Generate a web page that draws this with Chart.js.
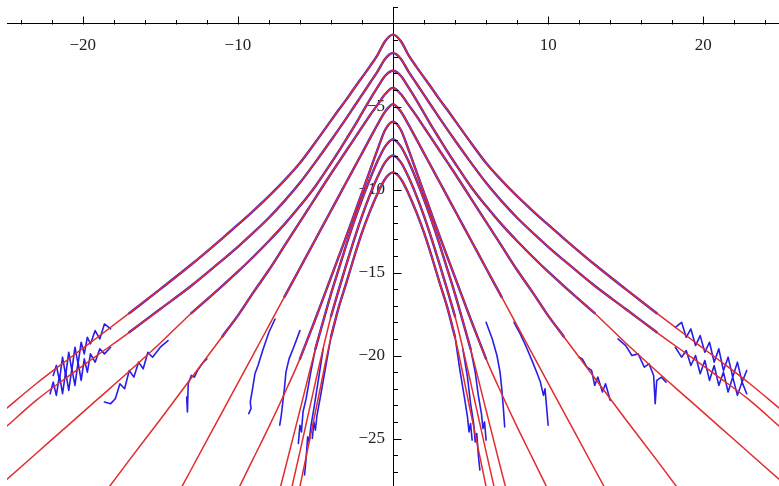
<!DOCTYPE html>
<html><head><meta charset="utf-8">
<script src="https://cdn.jsdelivr.net/npm/chart.js@4.4.1/dist/chart.umd.min.js"></script>
<style>html,body{margin:0;padding:0;background:#fff}#wrap{position:relative;width:779px;height:486px}</style>
</head><body><div id="wrap"><canvas id="c"></canvas></div>
<script>
// x grid for the fitted (red) curves
const X = [-25,-23,-21,-19,-17,-15,-13,-11,-10,-9,-8,-7,-6,-5,-4,-3.5,-3,-2.5,-2,-1.5,-1,-0.5,0,0.5,1,1.5,2,2.5,3,3.5,4,5,6,7,8,9,10,11,13,15,17,19,21,23,25];
// fitted curves, values
const fit1 = [-23.25,-21.7,-20.27,-18.87,-17.45,-16.0,-14.52,-12.94,-12.12,-11.28,-10.4,-9.45,-8.4,-7.15,-5.85,-5.2,-4.57,-3.9,-3.25,-2.6,-1.9,-1.05,-0.67,-1.05,-1.9,-2.6,-3.25,-3.9,-4.57,-5.2,-5.85,-7.15,-8.4,-9.45,-10.4,-11.28,-12.12,-12.94,-14.52,-16.0,-17.45,-18.87,-20.27,-21.7,-23.25];
const fit2 = [-24.35,-22.7,-21.3,-19.95,-18.6,-17.2,-15.8,-14.25,-13.45,-12.6,-11.7,-10.7,-9.6,-8.35,-7.05,-6.38,-5.7,-5.0,-4.3,-3.6,-2.9,-2.12,-1.78,-2.12,-2.9,-3.6,-4.3,-5.0,-5.7,-6.38,-7.05,-8.35,-9.6,-10.7,-11.7,-12.6,-13.45,-14.25,-15.8,-17.2,-18.6,-19.95,-21.3,-22.7,-24.35];
const fit3 = [-27.55,-25.9,-24.25,-22.6,-20.95,-19.25,-17.45,-15.8,-14.95,-14.05,-13.1,-12.1,-11.0,-9.8,-8.42,-7.7,-6.95,-6.2,-5.4,-4.6,-3.85,-3.15,-2.85,-3.15,-3.85,-4.6,-5.4,-6.2,-6.95,-7.7,-8.42,-9.8,-11.0,-12.1,-13.1,-14.05,-14.95,-15.8,-17.45,-19.25,-20.95,-22.6,-24.25,-25.9,-27.55];
const fit4 = [-36.3,-33.8,-31.3,-28.8,-26.3,-23.85,-21.35,-18.85,-17.6,-16.2,-14.85,-13.4,-11.95,-10.5,-9.05,-8.35,-7.65,-6.95,-6.25,-5.55,-4.9,-4.25,-3.88,-4.25,-4.9,-5.55,-6.25,-6.95,-7.65,-8.35,-9.05,-10.5,-11.95,-13.4,-14.85,-16.2,-17.6,-18.85,-21.35,-23.85,-26.3,-28.8,-31.3,-33.8,-36.3];
const fit5 = [-47.7,-44.2,-40.7,-37.3,-33.8,-30.3,-26.85,-23.39,-21.66,-19.93,-18.2,-16.47,-14.74,-13.01,-11.28,-10.41,-9.55,-8.68,-7.82,-6.95,-6.09,-5.3,-4.86,-5.3,-6.09,-6.95,-7.82,-8.68,-9.55,-10.41,-11.28,-13.01,-14.74,-16.47,-18.2,-19.93,-21.66,-23.39,-26.85,-30.3,-33.8,-37.3,-40.7,-44.2,-47.7];
const fit6 = [-58,-54,-50,-46,-42,-38,-34,-30,-28.1,-26.2,-24.3,-22.3,-20.2,-17.8,-15.3,-14.05,-12.8,-11.5,-10.2,-8.9,-7.6,-6.4,-5.92,-6.4,-7.6,-8.9,-10.2,-11.5,-12.8,-14.05,-15.3,-17.8,-20.2,-22.3,-24.3,-26.2,-28.1,-30,-34,-38,-42,-46,-50,-54,-58];
const fit7 = [-90,-85,-80,-70,-60,-52,-45,-41,-37.8,-34.2,-30.6,-27.0,-23.3,-19.6,-16.3,-14.8,-13.3,-11.9,-10.6,-9.4,-8.3,-7.4,-6.97,-7.4,-8.3,-9.4,-10.6,-11.9,-13.3,-14.8,-16.3,-19.6,-23.3,-27.0,-30.6,-34.2,-37.8,-41,-45,-52,-60,-70,-80,-85,-90];
const fit8 = [-95,-90,-85,-75,-65,-57,-50,-46,-42,-38,-34,-29.9,-25.8,-21.6,-17.65,-16.05,-14.5,-13.0,-11.6,-10.35,-9.25,-8.35,-7.95,-8.35,-9.25,-10.35,-11.6,-13.0,-14.5,-16.05,-17.65,-21.6,-25.8,-29.9,-34,-38,-42,-46,-50,-57,-65,-75,-85,-90,-95];
const fit9 = [-100,-95,-90,-80,-70,-62,-55,-50,-46,-41.5,-37,-32.4,-27.9,-23.4,-18.9,-17.1,-15.6,-14.05,-12.6,-11.35,-10.25,-9.35,-8.97,-9.35,-10.25,-11.35,-12.6,-14.05,-15.6,-17.1,-18.9,-23.4,-27.9,-32.4,-37,-41.5,-46,-50,-55,-62,-70,-80,-90,-95,-100];
const FITS = [fit1, fit2, fit3, fit4, fit5, fit6, fit7, fit8, fit9];
// |x| up to which the measured (blue) trace follows each fit
const blueReach = [18, 18, 14.5, 12, 7.5, 6, 5, 4.5, 4];
// noisy measured tails, [x, y]
const tailL = [
  [[-18.2,-18.4],[-18.6,-18.1],[-18.9,-19.0],[-19.2,-18.5],[-19.5,-19.3],[-19.7,-18.9],[-19.9,-19.9],[-20.1,-19.2],[-20.3,-20.5],[-20.5,-19.5],[-20.7,-20.9],[-20.9,-19.8],[-21.1,-21.2],[-21.3,-20.1],[-21.5,-21.5],[-21.7,-20.6],[-21.9,-21.2]],
  [[-18.2,-19.5],[-18.6,-19.9],[-18.9,-19.6],[-19.2,-20.4],[-19.5,-19.9],[-19.7,-21.0],[-19.9,-20.2],[-20.1,-21.5],[-20.3,-20.4],[-20.5,-21.8],[-20.7,-20.8],[-20.9,-22.1],[-21.1,-21.0],[-21.3,-22.3],[-21.5,-21.2],[-21.7,-22.4],[-21.9,-21.6],[-22.1,-22.3]],
  [[-14.5,-19.1],[-15.0,-19.5],[-15.5,-20.1],[-15.8,-19.8],[-16.1,-20.8],[-16.4,-20.4],[-16.7,-21.3],[-17.0,-20.9],[-17.3,-22.0],[-17.6,-21.7],[-17.9,-22.6],[-18.2,-22.9],[-18.6,-22.8]],
  [[-12.0,-20.2],[-12.3,-20.5],[-12.6,-20.9],[-12.8,-21.3],[-13.0,-21.2],[-13.2,-21.7],[-13.25,-23.4],[-13.3,-22.5]],
  [[-7.6,-17.8],[-8.0,-18.6],[-8.4,-19.7],[-8.7,-20.6],[-8.9,-21.1],[-9.05,-22.0],[-9.2,-22.8],[-9.15,-23.2],[-9.3,-23.5]],
  [[-6.0,-18.5],[-6.4,-19.5],[-6.7,-20.2],[-6.9,-21.0],[-7.0,-22.0],[-7.1,-22.8],[-7.2,-23.6],[-7.3,-24.2]],
  [[-5.0,-19.6],[-5.3,-21.0],[-5.6,-22.6],[-5.8,-23.4],[-5.9,-24.6],[-6.0,-24.2],[-6.1,-25.3]],
  [[-4.5,-19.6],[-4.8,-21.4],[-5.1,-23.2],[-5.3,-24.3],[-5.4,-25.2],[-5.5,-24.9],[-5.6,-26.2],[-5.7,-27.2]],
  [[-4.0,-18.9],[-4.4,-21.0],[-4.7,-22.6],[-4.9,-23.6],[-5.0,-24.5],[-5.1,-24.0],[-5.2,-25.0]]
];
const tailR = [
  [[18.2,-18.3],[18.6,-18.0],[18.9,-18.9],[19.2,-18.4],[19.5,-19.4],[19.8,-18.8],[20.1,-19.8],[20.4,-19.2],[20.7,-20.4],[21.0,-19.6],[21.3,-20.9],[21.6,-20.1],[21.9,-21.3],[22.2,-20.4],[22.5,-21.6],[22.8,-20.9]],
  [[18.2,-19.5],[18.6,-20.1],[18.9,-19.7],[19.2,-20.6],[19.5,-20.0],[19.8,-21.1],[20.1,-20.3],[20.4,-21.5],[20.7,-20.6],[21.0,-21.8],[21.3,-21.0],[21.6,-22.2],[21.9,-21.3],[22.2,-22.4],[22.5,-21.6],[22.8,-22.3]],
  [[14.5,-19.0],[15.0,-19.4],[15.4,-20.0],[15.8,-19.9],[16.2,-20.7],[16.5,-20.5],[16.8,-21.2],[16.9,-22.9],[17.0,-21.5],[17.3,-21.3],[17.6,-21.6]],
  [[12.0,-20.1],[12.2,-20.2],[12.5,-20.7],[12.8,-20.9],[13.0,-21.8],[13.2,-21.3],[13.5,-22.2],[13.7,-21.7],[14.0,-22.7]],
  [[7.8,-18.0],[8.2,-18.7],[8.6,-19.5],[9.0,-20.4],[9.3,-21.1],[9.5,-21.6],[9.7,-22.4],[9.8,-22.0],[9.9,-23.1],[10.0,-24.2]],
  [[6.0,-18.0],[6.4,-19.0],[6.7,-20.0],[6.9,-21.0],[7.0,-21.9],[7.1,-23.0],[7.2,-24.3]],
  [[5.0,-19.6],[5.3,-21.0],[5.5,-22.4],[5.7,-23.5],[5.8,-24.4],[5.9,-24.0],[6.0,-25.1]],
  [[4.5,-19.6],[4.8,-21.3],[5.0,-22.9],[5.2,-24.1],[5.3,-25.2],[5.4,-24.7],[5.5,-26.0],[5.6,-26.9]],
  [[4.0,-18.9],[4.3,-20.8],[4.6,-22.5],[4.8,-23.7],[4.9,-24.6],[5.0,-24.1],[5.1,-25.1]]
];
// axis ticks
const X_RANGE = [-24.88, 24.88];
const Y_RANGE = [-27.86, 0.994];
const X_TICKS = [-20, -10, 10, 20];
const X_TICK_LABELS = ['\u221220', '\u221210', '10', '20'];
const X_MINOR = [-24,-22,-18,-16,-14,-12,-8,-6,-4,-2,2,4,6,8,12,14,16,18,22,24];
const Y_TICKS = [-25, -20, -15, -10, -5];
const Y_TICK_LABELS = ['\u221225', '\u221220', '\u221215', '\u221210', '\u22125'];
const Y_MINOR = [-27,-26,-24,-23,-22,-21,-19,-18,-17,-16,-14,-13,-12,-11,-9,-8,-7,-6,-4,-3,-2,-1,1];

const RED = 'rgb(226,44,46)';
const BLUE = 'rgb(40,30,230)';
const datasets = [];
FITS.forEach((f, k) => {
  datasets.push({ data: X.map((x, i) => ({x, y: f[i]})), borderColor: RED, borderWidth: 1.5,
    cubicInterpolationMode: 'monotone', order: 0 });
});
FITS.forEach((f, k) => {
  const r = blueReach[k];
  const mid = [];
  X.forEach((x, i) => { if (Math.abs(x) <= r) mid.push({x, y: f[i]}); });
  const left = tailL[k].slice().reverse().map(p => ({x: p[0], y: p[1]}));
  const right = tailR[k].map(p => ({x: p[0], y: p[1]}));
  datasets.push({ data: left, borderColor: BLUE, borderWidth: 1.6, tension: 0, order: 1 });
  datasets.push({ data: mid, borderColor: BLUE, borderWidth: 2.4, cubicInterpolationMode: 'monotone', order: 1 });
  datasets.push({ data: right, borderColor: BLUE, borderWidth: 1.6, tension: 0, order: 1 });
});
datasets.forEach(d => { d.showLine = true; d.pointRadius = 0; d.pointHoverRadius = 0; d.fill = false; });

const tickMarks = {
  id: 'tickMarks',
  afterDatasetsDraw(chart) {
    const {ctx, scales: {x, y}} = chart;
    const y0 = Math.round(y.getPixelForValue(0)) + 0.5;
    const x0 = Math.round(x.getPixelForValue(0)) + 0.5;
    ctx.save();
    ctx.strokeStyle = '#000'; ctx.lineWidth = 1;
    ctx.beginPath();
    X_TICKS.forEach(v => { const p = Math.round(x.getPixelForValue(v)) + 0.5; ctx.moveTo(p, y0); ctx.lineTo(p, y0 - 8); });
    X_MINOR.forEach(v => { const p = Math.round(x.getPixelForValue(v)) + 0.5; ctx.moveTo(p, y0); ctx.lineTo(p, y0 - 4.5); });
    Y_TICKS.forEach(v => { const p = Math.round(y.getPixelForValue(v)) + 0.5; ctx.moveTo(x0, p); ctx.lineTo(x0 + 8, p); });
    Y_MINOR.forEach(v => { const p = Math.round(y.getPixelForValue(v)) + 0.5; ctx.moveTo(x0, p); ctx.lineTo(x0 + 4.5, p); });
    ctx.stroke();
    ctx.restore();
  }
};

const zeroBox = (horiz) => (s) => {
  if (horiz) s.height = 0; else s.width = 0;
  s.paddingTop = 0; s.paddingBottom = 0; s.paddingLeft = 0; s.paddingRight = 0;
};

const font = { family: "'Liberation Serif', 'Times New Roman', serif", size: 17 };
new Chart(document.getElementById('c'), {
  type: 'scatter',
  data: { datasets },
  plugins: [tickMarks],
  options: {
    responsive: true, maintainAspectRatio: false, animation: false,
    layout: { padding: { left: 7, right: 0, top: 7, bottom: 0 } },
    plugins: { legend: { display: false }, tooltip: { enabled: false } },
    elements: { line: { borderCapStyle: 'round', borderJoinStyle: 'round' } },
    scales: {
      x: {
        type: 'linear', min: X_RANGE[0], max: X_RANGE[1], position: { y: 0 }, z: 1,
        afterBuildTicks: s => { s.ticks = X_TICKS.map(v => ({ value: v })); },
        afterFit: zeroBox(true),
        ticks: { callback: (v) => X_TICK_LABELS[X_TICKS.indexOf(v)], font, color: '#222', padding: 12, maxRotation: 0, autoSkip: false },
        grid: { display: false, drawTicks: false },
        border: { display: true, color: '#000', width: 1 }
      },
      y: {
        type: 'linear', min: Y_RANGE[0], max: Y_RANGE[1], position: 'center', z: 1,
        afterBuildTicks: s => { s.ticks = Y_TICKS.map(v => ({ value: v })); },
        afterFit: zeroBox(false),
        ticks: { callback: (v) => Y_TICK_LABELS[Y_TICKS.indexOf(v)], font, color: '#222', padding: 8, autoSkip: false },
        grid: { display: false, drawTicks: false },
        border: { display: true, color: '#000', width: 1 }
      }
    }
  }
});
</script>
</body></html>
